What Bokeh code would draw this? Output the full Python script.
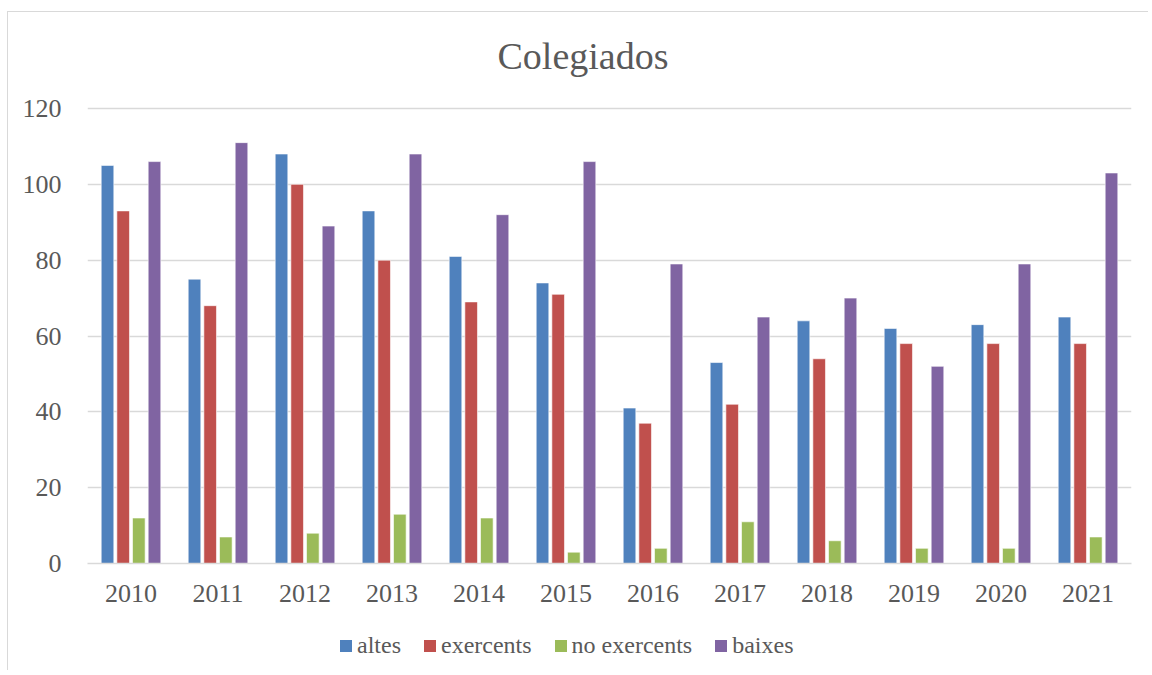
from bokeh.plotting import figure
from bokeh.models import ColumnDataSource, FactorRange, Range1d, Legend, LegendItem, Label
from bokeh.layouts import column
from bokeh.transform import dodge
from bokeh.embed import file_html
from bokeh.resources import INLINE

title_text = "Colegiados"
years = ["2010", "2011", "2012", "2013", "2014", "2015", "2016", "2017", "2018", "2019", "2020", "2021"]
altes = [105, 75, 108, 93, 81, 74, 41, 53, 64, 62, 63, 65]
exercents = [93, 68, 100, 80, 69, 71, 37, 42, 54, 58, 58, 58]
no_exercents = [12, 7, 8, 13, 12, 3, 4, 11, 6, 4, 4, 7]
baixes = [106, 111, 89, 108, 92, 106, 79, 65, 70, 52, 79, 103]
series_names = ["altes", "exercents", "no exercents", "baixes"]
y_ticks = [0, 20, 40, 60, 80, 100, 120]

colors = ["#4F81BD", "#C0504D", "#9BBB59", "#8064A2"]
FONT = "Liberation Serif"
TXT = "#595959"

src = ColumnDataSource(dict(years=years, altes=altes, exercents=exercents,
                            no_exercents=no_exercents, baixes=baixes))

# title strip
p0 = figure(width=1140, height=74, output_backend="svg", toolbar_location=None,
            x_axis_type=None, y_axis_type=None, x_range=Range1d(0, 1), y_range=Range1d(0, 1),
            min_border=0)
p0.outline_line_color = None
p0.xgrid.grid_line_color = None
p0.ygrid.grid_line_color = None
p0.add_layout(Label(x=410, y=31, x_units="screen", y_units="screen", text=title_text,
                    text_font=FONT, text_font_size="38px", text_color=TXT,
                    text_align="left", text_baseline="middle"))

# main chart
p = figure(x_range=FactorRange(*years), y_range=Range1d(0, 120.53),
           width=1140, height=534, output_backend="svg", toolbar_location=None,
           min_border_left=79, min_border_right=17, min_border_top=20, min_border_bottom=57)

cols = ["altes", "exercents", "no_exercents", "baixes"]
offsets = [-0.27, -0.09, 0.09, 0.27]
for c, off, col in zip(cols, offsets, colors):
    p.vbar(x=dodge("years", off, range=p.x_range), top=c, width=0.145, source=src,
           fill_color=col, line_color="white", line_width=0.6)

p.outline_line_color = None
p.xgrid.grid_line_color = None
p.ygrid.grid_line_color = "#D9D9D9"
p.ygrid.grid_line_width = 1.5
p.yaxis.ticker = y_ticks

p.yaxis.axis_line_color = None
p.yaxis.major_tick_line_color = None
p.yaxis.minor_tick_line_color = None
p.yaxis.major_label_text_font = FONT
p.yaxis.major_label_text_font_size = "26px"
p.yaxis.major_label_text_color = TXT
p.yaxis.major_label_standoff = 20

p.xaxis.axis_line_color = "#D9D9D9"
p.xaxis.axis_line_width = 1.5
p.xaxis.major_tick_line_color = None
p.xaxis.minor_tick_line_color = None
p.xaxis.major_label_text_font = FONT
p.xaxis.major_label_text_font_size = "26px"
p.xaxis.major_label_text_color = TXT
p.xaxis.major_label_standoff = 15

# legend strip below the chart
p2 = figure(width=1140, height=50, output_backend="svg", toolbar_location=None,
            x_axis_type=None, y_axis_type=None, x_range=Range1d(0, 1), y_range=Range1d(0, 1),
            min_border=0)
p2.outline_line_color = None
p2.xgrid.grid_line_color = None
p2.ygrid.grid_line_color = None
dummy = []
for col in colors:
    dummy.append(p2.vbar(x=[0.5], top=[0], bottom=[0], width=0.1, fill_color=col, line_color=None))
items = [LegendItem(label=n, renderers=[r]) for n, r in zip(series_names, dummy)]
legend = Legend(items=items, orientation="horizontal", location=(251, 11),
                label_text_font=FONT, label_text_font_size="24px", label_text_color=TXT,
                glyph_width=15, glyph_height=15, label_standoff=4, spacing=21,
                padding=0, margin=0, border_line_color=None, background_fill_alpha=0)
p2.add_layout(legend, "center")

layout = column(p0, p, p2, spacing=0)
layout.styles = {"margin-left": "7px", "margin-top": "11px",
                 "border-left": "1px solid #d9d9d9", "border-top": "1px solid #d9d9d9"}

open("out.html", "w").write(file_html(layout, INLINE))
